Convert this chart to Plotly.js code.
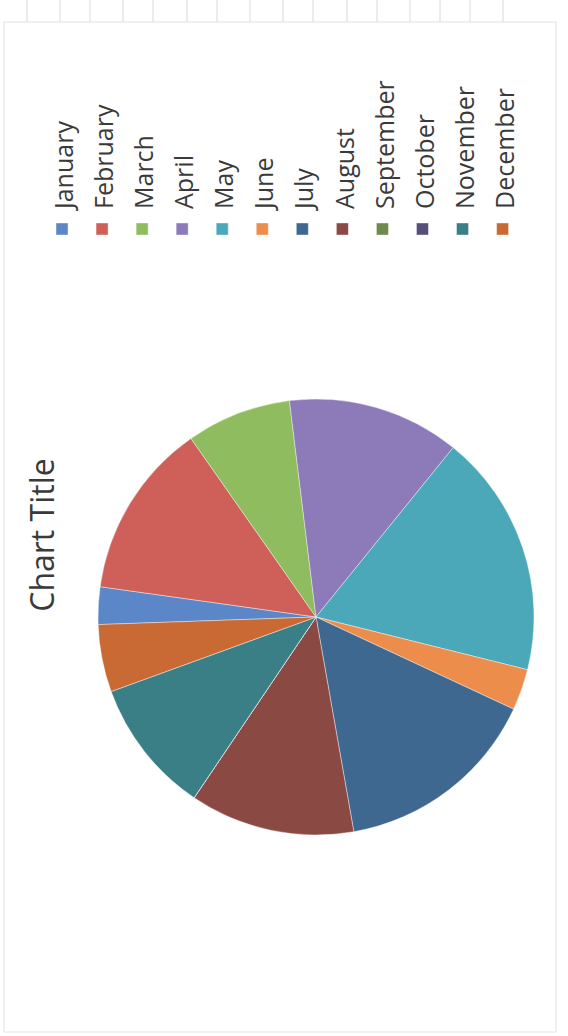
<!DOCTYPE html>
<html>
<head>
<meta charset="utf-8">
<script src="https://cdn.plot.ly/plotly-3.0.1.min.js"></script>
<style>
  html, body { margin: 0; padding: 0; background: #ffffff; overflow: hidden; }
  #chart {
    position: absolute; left: 0; top: 0;
    width: 1036px; height: 568px;
    transform-origin: 0 0;
    transform: translate(0px, 1036px) rotate(-90deg);
  }
</style>
</head>
<body>
<div id="chart"></div>
<script>
// Data
const months = ["January", "February", "March", "April", "May", "June",
                "July", "August", "September", "October", "November", "December"];
const values = [10, 47, 28, 46, 65, 11, 55, 44, 0, 0, 36, 18];
const colors = ["#5b87c9", "#cf5f59", "#8fbc5e", "#8d7ab9", "#4aa8b9", "#ec8d4c",
                "#3e6890", "#8b4944", "#6e8a4d", "#55507a", "#3a7f86", "#c96a34"];
const chartTitle = "Chart Title";

// decorative spreadsheet gridline ticks above the chart (picture x positions)
const gridTicks = [27, 60, 90, 123, 153, 187, 217, 250, 283, 313, 347, 377, 410, 440, 470, 503];

const W = 1036, H = 568;
const shapes = [{
  type: "rect", xref: "paper", yref: "paper",
  x0: 4 / W, x1: 1014 / W, y0: (H - 556) / H, y1: (H - 4) / H,
  line: { color: "#e2e2e2", width: 1 }
}];
gridTicks.forEach(function (t) {
  shapes.push({
    type: "line", xref: "paper", yref: "paper",
    x0: 1014 / W, x1: 1, y0: (H - t) / H, y1: (H - t) / H,
    line: { color: "#dadada", width: 1 }
  });
});

// legend labels drawn a little smaller than the legend row font so rows sit 40px apart
const legendLabels = months.map(function (m) {
  return '<span style="font-size:25px">' + m + '</span>';
});

const trace = {
  type: "pie",
  labels: legendLabels,
  values: values,
  sort: false,
  direction: "clockwise",
  rotation: -2,
  textinfo: "none",
  hoverinfo: "label+value",
  marker: { colors: colors, line: { color: "rgba(255,255,255,0.5)", width: 0.8 } },
  domain: { x: [201 / W, 637 / W], y: [34 / H, 470 / H] },
  showlegend: true
};

const layout = {
  width: W, height: H,
  margin: { l: 0, r: 0, t: 0, b: 0, pad: 0 },
  paper_bgcolor: "#ffffff",
  font: { family: "Open Sans, Liberation Sans, sans-serif", color: "#3a3a3a" },
  title: {
    text: chartTitle,
    font: { family: "Open Sans, sans-serif", size: 32, color: "#3a3a3a" },
    x: 501 / W, xanchor: "center", xref: "container",
    y: 1 - 43 / H, yanchor: "middle", yref: "container"
  },
  legend: {
    orientation: "v",
    x: 787 / W, xanchor: "left",
    y: 1 - 37 / H, yanchor: "top",
    font: { family: "Open Sans, sans-serif", size: 28.5, color: "#3a3a3a" },
    bgcolor: "rgba(0,0,0,0)",
    borderwidth: 0
  },
  shapes: shapes
};

Plotly.newPlot("chart", [trace], layout, { displayModeBar: false, staticPlot: true });
</script>
</body>
</html>
